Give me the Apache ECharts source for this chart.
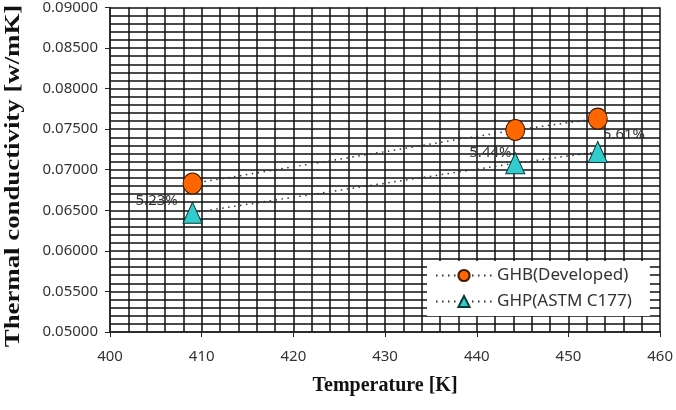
<!DOCTYPE html>
<html>
<head>
<meta charset="utf-8">
<script src="https://cdn.jsdelivr.net/npm/echarts@6/dist/echarts.min.js"></script>
<style>
  html, body { margin: 0; padding: 0; background: #fff; }
  #chart { width: 676px; height: 410px; }
</style>
</head>
<body>
<div id="chart"></div>
<script>
// measured values
const temps = [409.0, 444.2, 453.2];
const ghb = [0.0683, 0.0749, 0.0763];
const ghp = [0.0647, 0.0708, 0.0722];
const diffLabels = ["5.23%", "5.44%", "5.61%"];

const chart = echarts.init(document.getElementById("chart"));

const tickFont = { fontFamily: "Noto Sans", fontSize: 15, color: "#333" };
const labelFont = { fontFamily: "Noto Sans", fontSize: 15, color: "#333" };
const gridLine = { lineStyle: { color: "#111", width: 1.5 } };
const dotted = { color: "#333", width: 1.5, type: [1.5, 4.5] };

const option = {
  animation: false,
  grid: { left: 110, right: 15, top: 5, bottom: 78 },
  legend: {
    left: 427,
    top: 261,
    orient: "vertical",
    backgroundColor: "#fff",
    borderWidth: 0,
    padding: [6, 18, 6, 8],
    itemGap: 9,
    itemWidth: 56,
    itemHeight: 14,
    textStyle: { fontFamily: "Noto Sans", fontSize: 17, color: "#333" },
    data: ["GHB(Developed)", "GHP(ASTM C177)"],
  },
  graphic: [
    {
      // y axis title, stretched like the original
      type: "text",
      x: 14,
      y: 176,
      rotation: Math.PI / 2,
      scaleX: 1.34,
      style: {
        text: "Thermal conductivity [w/mK]",
        font: "bold 20px 'Liberation Serif'",
        fill: "#111",
        align: "center",
        verticalAlign: "middle",
      },
    },
  ],
  xAxis: {
    type: "value",
    min: 400,
    max: 460,
    interval: 10,
    name: "Temperature [K]",
    nameLocation: "middle",
    nameGap: 44,
    nameTextStyle: { fontFamily: "Liberation Serif", fontWeight: "bold", fontSize: 20, color: "#111" },
    axisLine: { lineStyle: { color: "#222", width: 1.5 } },
    axisTick: { show: true, length: 5, lineStyle: { color: "#222" } },
    axisLabel: Object.assign({ margin: 17 }, tickFont),
    splitLine: gridLine,
    minorTick: { show: false, splitNumber: 5 },
    minorSplitLine: Object.assign({ show: true }, gridLine),
  },
  yAxis: {
    type: "value",
    min: 0.05,
    max: 0.09,
    interval: 0.005,
    axisLine: { show: true, lineStyle: { color: "#222", width: 1.5 } },
    axisTick: { show: true, length: 5, lineStyle: { color: "#222" } },
    axisLabel: Object.assign({ margin: 12, formatter: (v) => v.toFixed(5) }, tickFont),
    splitLine: gridLine,
    minorTick: { show: false, splitNumber: 5 },
    minorSplitLine: Object.assign({ show: true }, gridLine),
  },
  series: [
    {
      name: "GHB(Developed)",
      type: "line",
      symbol: "circle",
      symbolSize: [19, 21],
      itemStyle: { color: "#ff6600", borderColor: "#3a1a00", borderWidth: 1 },
      lineStyle: dotted,
      data: temps.map((t, i) => {
        const d = { value: [t, ghb[i]] };
        if (i === 2) {
          d.label = Object.assign({ show: true, formatter: diffLabels[2], position: [15, 20] }, labelFont);
        }
        return d;
      }),
      z: 3,
    },
    {
      name: "GHP(ASTM C177)",
      type: "line",
      symbol: "triangle",
      symbolSize: [19, 21],
      itemStyle: { color: "#33cccc", borderColor: "#0a3a3a", borderWidth: 1 },
      lineStyle: dotted,
      data: temps.map((t, i) => {
        const d = { value: [t, ghp[i]] };
        if (i === 0) {
          d.label = Object.assign({ show: true, formatter: diffLabels[0], position: [-47, -8] }, labelFont);
        } else if (i === 1) {
          d.label = Object.assign({ show: true, formatter: diffLabels[1], position: [-36, -7] }, labelFont);
        }
        return d;
      }),
      z: 3,
    },
  ],
};

chart.setOption(option);
</script>
</body>
</html>
